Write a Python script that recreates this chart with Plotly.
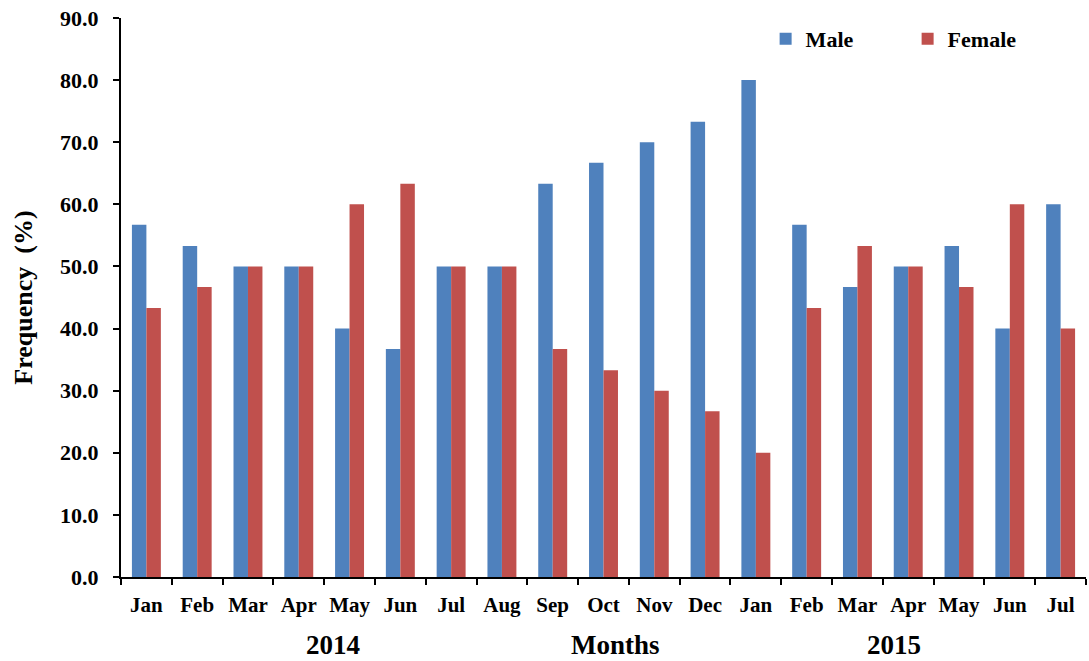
import plotly.graph_objects as go

months = ["Jan", "Feb", "Mar", "Apr", "May", "Jun", "Jul", "Aug", "Sep", "Oct",
          "Nov", "Dec", "Jan", "Feb", "Mar", "Apr", "May", "Jun", "Jul"]
male = [56.7, 53.3, 50.0, 50.0, 40.0, 36.7, 50.0, 50.0, 63.3, 66.7,
        70.0, 73.3, 80.0, 56.7, 46.7, 50.0, 53.3, 40.0, 60.0]
female = [43.3, 46.7, 50.0, 50.0, 60.0, 63.3, 50.0, 50.0, 36.7, 33.3,
          30.0, 26.7, 20.0, 43.3, 53.3, 50.0, 46.7, 60.0, 40.0]
y_ticks = [0, 10, 20, 30, 40, 50, 60, 70, 80, 90]

pos = list(range(len(months)))
FONT = "Liberation Serif, Times New Roman, serif"

fig = go.Figure()
fig.add_trace(go.Bar(x=pos, y=male, name="Male", marker_color="#4F81BD",
                     marker_line_width=0))
fig.add_trace(go.Bar(x=pos, y=female, name="Female", marker_color="#C0504D",
                     marker_line_width=0))

fig.update_layout(
    width=1089, height=661,
    margin=dict(l=121, r=3, t=18, b=84, autoexpand=False),
    plot_bgcolor="white", paper_bgcolor="white",
    barmode="group", bargap=0.43, bargroupgap=0,
    font=dict(family=FONT, size=21, color="black", weight="bold"),
    legend=dict(orientation="h", x=0.668, y=1.0, xanchor="left", yanchor="top",
                entrywidth=97, entrywidthmode="pixels",
                font=dict(family=FONT, size=22, weight="bold"),
                bgcolor="rgba(0,0,0,0)"),
    xaxis=dict(
        range=[-0.5, len(months) - 0.5],
        tickmode="array", tickvals=pos, ticktext=months,
        ticks="", showline=True, linecolor="black", linewidth=2,
        showgrid=False, zeroline=False, ticklabelstandoff=8,
        tickfont=dict(family=FONT, size=21, weight="bold"),
        minor=dict(tickmode="linear", tick0=-0.5, dtick=1, ticks="outside",
                   ticklen=6, tickwidth=2, tickcolor="black", showgrid=False),
    ),
    yaxis=dict(
        range=[0, 90], tickmode="array", tickvals=y_ticks,
        ticktext=[f"{v:.1f}" for v in y_ticks],
        ticks="outside", ticklen=6, tickwidth=2, tickcolor="black",
        showline=True, linecolor="black", linewidth=2,
        showgrid=False, zeroline=False, ticklabelstandoff=10,
        tickfont=dict(family=FONT, size=22, weight="bold"),
        title=dict(text="Frequency  (%)", standoff=20,
                   font=dict(family=FONT, size=26, weight="bold")),
    ),
)

# group labels beneath the month axis
for text, xp in [("2014", 333), ("Months", 615), ("2015", 894)]:
    fig.add_annotation(text=text, x=(xp - 121) / 965, y=-(645 - 577) / 559,
                       xref="paper", yref="paper", showarrow=False,
                       xanchor="center", yanchor="middle",
                       font=dict(family=FONT, size=27, weight="bold"))

fig.write_html("out.html")
